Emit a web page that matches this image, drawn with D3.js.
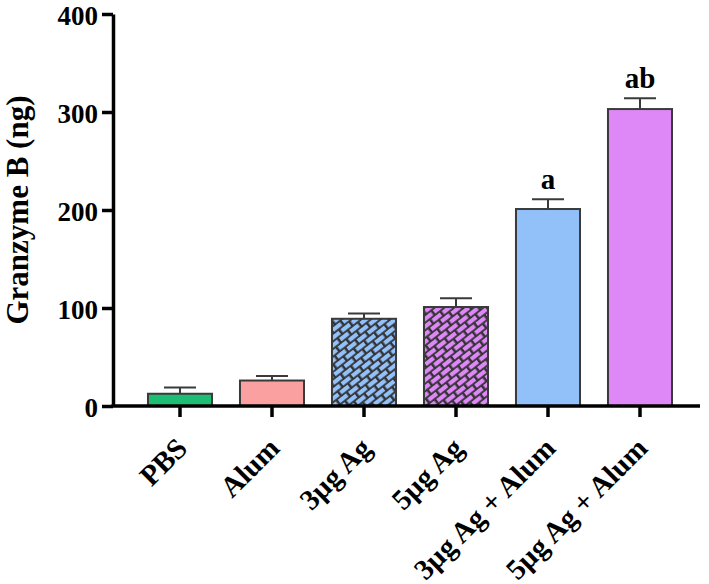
<!DOCTYPE html>
<html>
<head>
<meta charset="utf-8">
<script src="https://cdn.jsdelivr.net/npm/d3@7"></script>
<style>
  html, body { margin: 0; padding: 0; background: #fff; }
  svg { display: block; }
  text { font-family: "Liberation Serif", "Times New Roman", serif; font-weight: bold; fill: #000; }
</style>
</head>
<body>
<script>
const categories = ["PBS", "Alum", "3µg Ag", "5µg Ag", "3µg Ag + Alum", "5µg Ag + Alum"];
const means = [12.5, 26, 89, 101, 201, 303];
const errors = [6.5, 4.5, 5.5, 9, 10, 11];
const sigLabels = ["", "", "", "", "a", "ab"];
const fills = ["#1DBE74", "#FBA0A0", "#92C0F9", "#DD88F6", "#92C0F9", "#DD88F6"];
const patterned = [false, false, true, true, false, false];
const yTicks = [0, 100, 200, 300, 400];
const yTitle = "Granzyme B (ng)";

const W = 709, H = 584;
const svg = d3.select("body").append("svg").attr("width", W).attr("height", H);

const defs = svg.append("defs");
fills.forEach((c, i) => {
  if (!patterned[i]) return;
  const p = defs.append("pattern")
    .attr("id", "brick" + i)
    .attr("patternUnits", "userSpaceOnUse")
    .attr("width", 13).attr("height", 12)
    .attr("patternTransform", "rotate(-38)");
  p.append("rect").attr("width", 13).attr("height", 12).attr("fill", "#333");
  p.append("rect").attr("x", 0.5).attr("y", 1).attr("width", 10.5).attr("height", 4.2).attr("fill", c);
  p.append("rect").attr("x", 7).attr("y", 7).attr("width", 10.5).attr("height", 4.2).attr("fill", c);
  p.append("rect").attr("x", -6).attr("y", 7).attr("width", 10.5).attr("height", 4.2).attr("fill", c);
});

const x = d3.scaleBand().domain(categories).range([134, 686]).paddingInner(0.304).paddingOuter(0.152);
const y = d3.scaleLinear().domain([0, 400]).range([406, 14]);
const axisX0 = 113;

// bars
const g = svg.append("g");
categories.forEach((c, i) => {
  const bx = x(c), bw = x.bandwidth();
  g.append("rect")
    .attr("x", bx).attr("y", y(means[i]))
    .attr("width", bw).attr("height", y(0) - y(means[i]))
    .attr("fill", patterned[i] ? `url(#brick${i})` : fills[i])
    .attr("stroke", "#3a3a3a").attr("stroke-width", 2);
  const cx = bx + bw / 2;
  const top = y(means[i] + errors[i]);
  g.append("line").attr("x1", cx).attr("x2", cx).attr("y1", y(means[i])).attr("y2", top)
    .attr("stroke", "#3a3a3a").attr("stroke-width", 2);
  g.append("line").attr("x1", cx - bw / 4).attr("x2", cx + bw / 4).attr("y1", top).attr("y2", top)
    .attr("stroke", "#3a3a3a").attr("stroke-width", 2);
  if (sigLabels[i]) {
    g.append("text").attr("x", cx).attr("y", top - 10)
      .attr("text-anchor", "middle").attr("font-size", 29).text(sigLabels[i]);
  }
});

// y axis
const yAxis = d3.axisLeft(y).tickValues(yTicks).tickSize(11).tickPadding(4).tickSizeOuter(0);
const ya = svg.append("g").attr("transform", `translate(${axisX0},0)`).call(yAxis);
ya.select(".domain").attr("stroke", "#000").attr("stroke-width", 3.5);
ya.selectAll(".tick line").attr("stroke", "#000").attr("stroke-width", 3.5);
ya.selectAll(".tick text").attr("font-size", 27).attr("font-family", "Liberation Serif")
  .attr("font-weight", "bold").attr("fill", "#000").attr("dy", "0.38em");

// x axis
const xa = svg.append("g").attr("transform", `translate(0,${y(0)})`);
xa.append("line").attr("x1", axisX0 - 1.5).attr("x2", 700).attr("y1", 0).attr("y2", 0)
  .attr("stroke", "#000").attr("stroke-width", 3.5);
const xAxis = d3.axisBottom(x).tickSize(11).tickSizeOuter(0).tickFormat("");
const xg = xa.append("g").call(xAxis);
xg.select(".domain").remove();
xg.selectAll(".tick line").attr("stroke", "#000").attr("stroke-width", 3.5);

categories.forEach(c => {
  const cx = x(c) + x.bandwidth() / 2;
  svg.append("text")
    .attr("transform", `translate(${cx + 9},${450}) rotate(-45)`)
    .attr("text-anchor", "end").attr("font-size", 29).text(c);
});

// y title
svg.append("text")
  .attr("transform", `translate(28,210) rotate(-90)`)
  .attr("text-anchor", "middle").attr("font-size", 31).text(yTitle);
</script>
</body>
</html>
